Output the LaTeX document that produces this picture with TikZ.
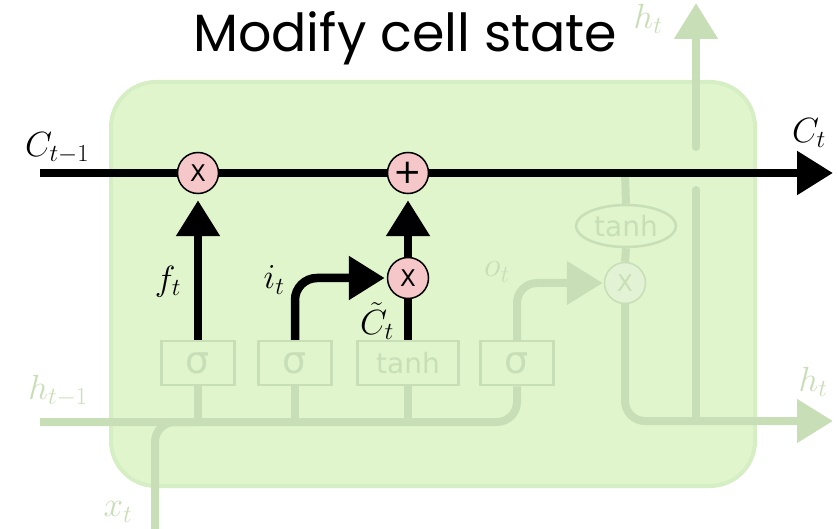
\RequirePackage{fix-cm}
\documentclass[tikz,border=0pt]{standalone}
\usepackage{fontspec}
\newfontfamily\titlefont{Poppins}
\newfontfamily\gatefont{DejaVu Sans}
\usetikzlibrary{arrows.meta,shapes.geometric}
\definecolor{cellbg}{RGB}{224,245,204}
\definecolor{celledge}{RGB}{214,238,195}
\definecolor{faded}{RGB}{200,222,182}
\definecolor{opink}{RGB}{246,199,201}
\definecolor{fadedop}{RGB}{226,242,212}
\begin{document}
\begin{tikzpicture}[x=1pt,y=-1pt,
  blackline/.style={line width=8.5pt,draw=black},
  fadeline/.style={line width=8pt,draw=faded},
  bigtip/.style={-{Triangle[length=36pt,width=42pt]}},
  op/.style={circle,draw=black,line width=1.5pt,fill=opink,minimum size=41pt,inner sep=0pt,font=\gatefont\fontsize{23}{23}\selectfont},
  fop/.style={circle,draw=faded,line width=1.5pt,fill=fadedop,text=faded,minimum size=41pt,inner sep=0pt,font=\gatefont\fontsize{23}{23}\selectfont},
  gate/.style={draw=faded,line width=2.5pt,fill=cellbg,text=faded,minimum height=44pt,inner sep=0pt,font=\gatefont\fontsize{28}{28}\selectfont},
  sig/.style={gate,minimum width=73pt,font=\gatefont\fontsize{38}{38}\selectfont},
  lab/.style={inner sep=0pt,font=\fontsize{35}{40}\selectfont},
  flab/.style={lab,text=faded}]
\useasboundingbox (0,0) rectangle (838,529);
% cell body
\draw[fill=cellbg,draw=celledge,line width=4pt,rounded corners=45pt] (111,82) rectangle (755,486);
% title
\node[anchor=base west,inner sep=0pt] (title) at (193,52) {\resizebox{424pt}{40pt}{\titlefont Modify cell state}};
% gates
\node[sig] (g1) at (198,363) {σ};
\node[sig] (g2) at (295,363) {σ};
\node[gate,minimum width=101pt] (g3) at (408,363) {tanh};
\node[sig] (g4) at (517,363) {σ};
% coordinates
\coordinate (hin) at (40,422);
\coordinate (xin) at (155,535);
\coordinate (cin) at (40,173);
\coordinate (cout) at (833,173);
\coordinate (ctap) at (625,173);
\coordinate (hout) at (833,421);
\coordinate (hupA) at (696,421);
\coordinate (hupB) at (696,190);
\coordinate (hupC) at (696,147);
\coordinate (hupD) at (696,3);
% faded parts
\node[fop] (xo) at (625,283) {X};
\node[ellipse,draw=faded,line width=2.5pt,fill=cellbg,text=faded,minimum width=100pt,minimum height=42pt,inner sep=0pt,font=\gatefont\fontsize{28}{28}\selectfont] (th) at (626,226) {tanh};
\draw[fadeline,rounded corners=20pt] (hin) -| (g4.south);
\draw[fadeline,rounded corners=20pt] (xin) |- (hin -| g1.south);
\draw[fadeline] (g1.south) -- (g1.south |- hin);
\draw[fadeline] (g2.south) -- (g2.south |- hin);
\draw[fadeline] (g3.south) -- (g3.south |- hin);
\draw[fadeline,bigtip,rounded corners=20pt,shorten >=1pt] (g4.north) |- (xo.west);
\draw[fadeline] (ctap) -- (th.north);
\draw[fadeline] (th.south) -- (xo.north);
\draw[fadeline,bigtip,rounded corners=20pt] (xo.south) |- (hout);
\draw[fadeline,line cap=round] (hupA) -- (hupB);
\draw[fadeline,line cap=round,bigtip] (hupC) -- (hupD);
% faded labels
\node[flab] (lht) at (648,19) {$h_t$};
\node[flab] (lhtr) at (813,382) {$h_t$};
\node[flab] (lhp) at (58,391) {$h_{t-1}$};
\node[flab] (lxt) at (118,512) {$x_t$};
\node[flab] (lot) at (497,272) {$o_t$};
% cell state
\draw[blackline,bigtip] (cin) -- (cout);
\node[op] (m1) at (198,173) {X};
\node[op,font=\gatefont\fontsize{34}{34}\selectfont] (p1) at (408,173) {+};
\node[op] (m2) at (408,278) {X};
% black connectors
\draw[blackline,bigtip,shorten >=6pt] (g1.north) -- (m1.south);
\draw[blackline,bigtip,shorten >=6pt] (m2.north) -- (p1.south);
\draw[blackline] (g3.north) -- (m2.south);
\draw[blackline,bigtip,rounded corners=22pt,shorten >=2pt] (g2.north) |- (m2.west);
% labels
\node[lab] (lcp) at (57,148) {$C_{t-1}$};
\node[lab] (lct) at (809,133) {$C_t$};
\node[lab] (lft) at (168,282) {$f_t$};
\node[lab] (lit) at (274,280) {$i_t$};
\node[lab] (lctil) at (377,321) {$\tilde{C}_t$};
\end{tikzpicture}
\end{document}
